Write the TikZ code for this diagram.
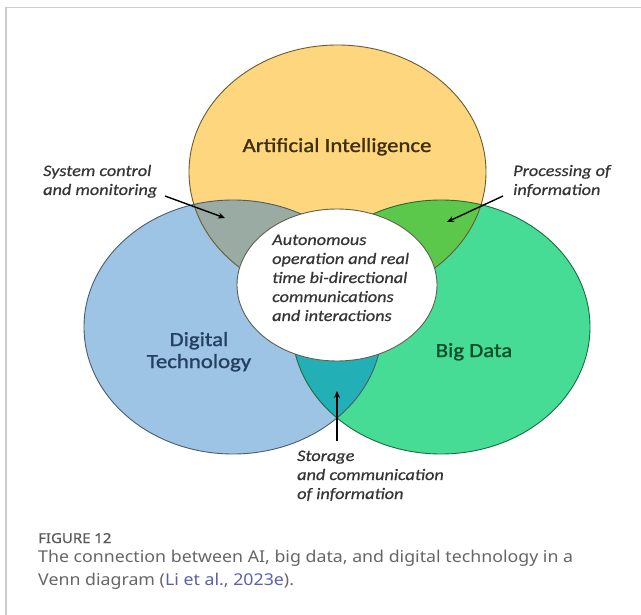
\documentclass[tikz,border=0pt]{standalone}
\usepackage{fontspec}
\setmainfont{Carlito}[FakeStretch=1.14]
\newfontfamily\titlefont{Carlito}[FakeStretch=1.14, FakeBold=1.2]
\newfontfamily\labelfont{Carlito}[FakeStretch=1.14, FakeBold=0.6]
\newfontfamily\capfont{Noto Sans}[FakeStretch=1.09]
\newfontfamily\figfont{Noto Sans}[FakeStretch=1.1, FakeBold=1]
\usetikzlibrary{arrows.meta}
\definecolor{aiY}{HTML}{FDD67D}
\definecolor{dtB}{HTML}{9DC3E5}
\definecolor{bdG}{HTML}{46DC95}
\definecolor{grayI}{HTML}{9AABA3}
\definecolor{greenI}{HTML}{5CC84B}
\definecolor{tealI}{HTML}{22AFB6}
\definecolor{aiLine}{HTML}{6E5A2E}
\definecolor{dtLine}{HTML}{4B5D6B}
\definecolor{bdLine}{HTML}{1F6B3E}
\definecolor{wLine}{HTML}{5E6050}
\definecolor{lblText}{HTML}{353535}
\definecolor{aiText}{HTML}{3D2E10}
\definecolor{dtText}{HTML}{24405E}
\definecolor{bdText}{HTML}{0D4D2A}
\definecolor{frameGray}{HTML}{CCCCCC}
\definecolor{capGray}{HTML}{666666}
\definecolor{figGray}{HTML}{5A5A5A}
\definecolor{linkBlue}{HTML}{5A5FB0}
\begin{document}
\begin{tikzpicture}[x=1pt,y=-1pt,
  lbl/.style={font=\labelfont\fontsize{16}{19}\selectfont\itshape, text=lblText, inner sep=0pt, anchor=base west},
  big/.style={font=\titlefont\fontsize{20}{24}\selectfont, inner sep=0pt, anchor=base},
  captxt/.style={font=\capfont\fontsize{16.3}{24}\selectfont, text=capGray, inner sep=0pt, anchor=base west},
  figtxt/.style={font=\figfont\fontsize{13.6}{16}\selectfont, text=figGray, inner sep=0pt, anchor=base west},
  arr/.style={-{Stealth[length=7pt,width=6pt]}, line width=1.4pt, black},
  ringline/.style={line width=0.9pt}]
\useasboundingbox (0,0) rectangle (641,615);
% frame
\draw[frameGray, line width=1.2pt] (6,615) -- (6,7.5) -- (641,7.5);
% base fills
\fill[aiY] (337.5,172) ellipse [x radius=148.5pt, y radius=127pt];
\fill[dtB] (233,327) ellipse [x radius=149pt, y radius=127pt];
\fill[bdG] (441,327) ellipse [x radius=149pt, y radius=127pt];
% pairwise intersections
\begin{scope}
  \clip (337.5,172) ellipse [x radius=148.5pt, y radius=127pt];
  \fill[grayI] (233,327) ellipse [x radius=149pt, y radius=127pt];
  \fill[greenI] (441,327) ellipse [x radius=149pt, y radius=127pt];
\end{scope}
\begin{scope}
  \clip (233,327) ellipse [x radius=149pt, y radius=127pt];
  \fill[tealI] (441,327) ellipse [x radius=149pt, y radius=127pt];
\end{scope}
% outlines
\draw[aiLine, ringline] (337.5,172) ellipse [x radius=148.5pt, y radius=127pt];
\draw[dtLine, ringline] (233,327) ellipse [x radius=149pt, y radius=127pt];
\draw[bdLine, ringline] (441,327) ellipse [x radius=149pt, y radius=127pt];
% centre ellipse
\fill[white] (337,285) ellipse [x radius=100pt, y radius=76pt];
\draw[wLine, ringline] (337,285) ellipse [x radius=100pt, y radius=76pt];
% circle titles
\node[big, text=aiText] (ai) at (337,152) {Artificial Intelligence};
\node[big, text=dtText] (dt1) at (199,346) {Digital};
\node[big, text=dtText] (dt2) at (199,368) {Technology};
\node[big, text=bdText] (bd) at (474,357) {Big Data};
% centre text
\node[lbl] (c1) at (272,245) {Autonomous};
\node[lbl] (c2) at (272,264) {operation and real};
\node[lbl] (c3) at (272,283) {time bi-directional};
\node[lbl] (c4) at (272,302) {communications};
\node[lbl] (c5) at (272,321) {and interactions};
% side labels
\node[lbl] (sc1) at (43,176) {System control};
\node[lbl] (sc2) at (43,195) {and monitoring};
\node[lbl] (pi1) at (513,176) {Processing of};
\node[lbl] (pi2) at (513,195) {information};
\node[lbl] (st1) at (297,461) {Storage};
\node[lbl] (st2) at (297,480) {and communication};
\node[lbl] (st3) at (297,499) {of information};
% arrows
\coordinate (scA) at (165,196);
\coordinate (scB) at (225,218);
\coordinate (piA) at (503,196);
\coordinate (piB) at (447,222);
\coordinate (stA) at (337,441);
\coordinate (stB) at (337,391);
\draw[arr] (scA) -- (scB);
\draw[arr] (piA) -- (piB);
\draw[arr] (stA) -- (stB);
% caption
\node[figtxt] (fig) at (38,543) {FIGURE 12};
\node[captxt] (cap1) at (38,562) {The connection between AI, big data, and digital technology in a};
\node[captxt] (cap2) at (38,585) {Venn diagram (\textcolor{linkBlue}{Li et al., 2023e}).};
\end{tikzpicture}
\end{document}
